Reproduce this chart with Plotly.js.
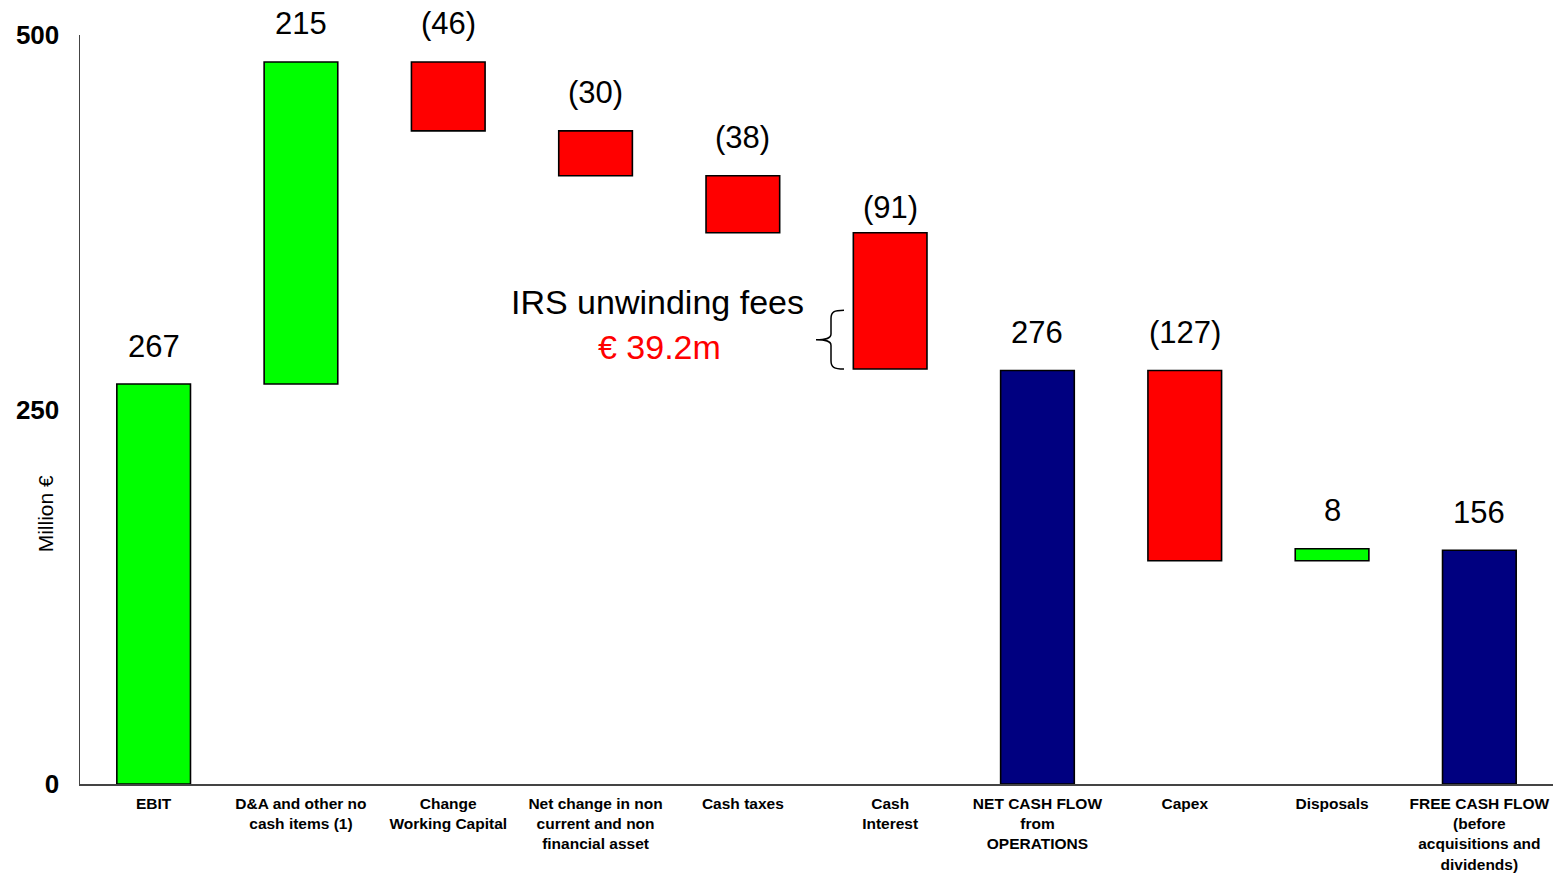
<!DOCTYPE html>
<html>
<head>
<meta charset="utf-8">
<script src="https://cdn.plot.ly/plotly-3.0.1.min.js"></script>
<style>
  html, body { margin: 0; padding: 0; background: #fff; }
  #chart { width: 1561px; height: 876px; }
</style>
</head>
<body>
<div id="chart"></div>
<script>
// ---- data ----
const categories = ['EBIT', 'DA', 'CWC', 'NCA', 'TAX', 'INT', 'NCF', 'CAPEX', 'DISP', 'FCF'];
const tickLabels = [
  'EBIT',
  'D&A and other no<br>cash items (1)',
  'Change<br>Working Capital',
  'Net change in non<br>current and non<br>financial asset',
  'Cash taxes',
  'Cash<br>Interest',
  'NET CASH FLOW<br>from<br>OPERATIONS',
  'Capex',
  'Disposals',
  'FREE CASH FLOW<br>(before<br>acquisitions and<br>dividends)'
];
const values = [267, 215, -46, -30, -38, -91, 276, -127, 8, 156];
const kinds = ['total', 'delta', 'delta', 'delta', 'delta', 'delta', 'total', 'delta', 'delta', 'total'];
const valueLabels = ['267', '215', '(46)', '(30)', '(38)', '(91)', '276', '(127)', '8', '156'];
const yTicks = [0, 250, 500];
const irsFee = 39.2;
const irsTitle = 'IRS unwinding fees';
const irsValue = '€ 39.2m';

// ---- waterfall geometry from data ----
const bases = [], heights = [], tops = [], colors = [];
let running = 0;
values.forEach((v, i) => {
  if (kinds[i] === 'total') {
    bases.push(0); heights.push(v); running = v;
    colors.push(i === 0 ? '#00FF00' : '#000080');
  } else {
    bases.push(running); heights.push(v);
    running += v;
    colors.push(v >= 0 ? '#00FF00' : '#FF0000');
  }
  tops.push(Math.max(bases[i], bases[i] + heights[i]));
});

const FONT = 'Liberation Sans, Arial, sans-serif';
const L = 80, R = 8, T = 35, B = 92, W = 1561;
const plotW = W - L - R;
const px2paper = p => (p - L) / plotW;

const annotations = valueLabels.map((t, i) => ({
  x: categories[i], y: tops[i], xref: 'x', yref: 'y',
  text: t, showarrow: false, yanchor: 'middle',
  yshift: i === 5 ? 25 : 38,
  font: { family: FONT, size: 31, color: '#000' }
}));

// IRS note
const interestIdx = 5;
const intBottom = bases[interestIdx] + heights[interestIdx];
annotations.push({
  x: px2paper(657), xref: 'paper', xanchor: 'center', y: intBottom + irsFee, yref: 'y',
  text: irsTitle, showarrow: false, yanchor: 'middle', yshift: 8,
  font: { family: FONT, size: 34, color: '#000' }
});
annotations.push({
  x: px2paper(659), xref: 'paper', xanchor: 'center', y: intBottom + irsFee, yref: 'y',
  text: irsValue, showarrow: false, yanchor: 'middle', yshift: -37,
  font: { family: FONT, size: 34, color: '#FF0000' }
});
// y-axis title
annotations.push({
  x: px2paper(45), xref: 'paper', xanchor: 'center', y: 180, yref: 'y', yanchor: 'middle',
  text: 'Million €', showarrow: false, textangle: -90,
  font: { family: FONT, size: 21, color: '#000' }
});

// curly brace spanning the IRS fee portion of the interest bar
const y0 = intBottom, y1 = intBottom + irsFee, ym = (y0 + y1) / 2;
const h = (y1 - y0);
const xr = px2paper(844), xm = px2paper(831), xp = px2paper(816), xc = px2paper(834);
const dy = h * 0.14;
const bracePath =
  `M ${xr},${y1} C ${xc},${y1} ${xm},${y1 - dy*0.2} ${xm},${y1 - dy}` +
  ` L ${xm},${ym + dy*0.7}` +
  ` C ${xm},${ym + dy*0.1} ${px2paper(825)},${ym} ${xp},${ym}` +
  ` C ${px2paper(825)},${ym} ${xm},${ym - dy*0.1} ${xm},${ym - dy*0.7}` +
  ` L ${xm},${y0 + dy}` +
  ` C ${xm},${y0 + dy*0.2} ${xc},${y0} ${xr},${y0}`;

const shapes = [{
  type: 'path', xref: 'paper', yref: 'y', path: bracePath,
  line: { color: '#000', width: 1.5 }
}];

const trace = {
  type: 'bar',
  x: categories,
  y: heights,
  base: bases,
  width: 0.5,
  marker: { color: colors, line: { color: '#000', width: 1.6 } },
  hoverinfo: 'skip'
};

const layout = {
  width: 1561, height: 876,
  margin: { l: L, r: R, t: T, b: B },
  paper_bgcolor: '#fff', plot_bgcolor: '#fff',
  showlegend: false,
  xaxis: {
    type: 'category',
    tickvals: categories, ticktext: tickLabels,
    tickangle: 0,
    showgrid: false, zeroline: false,
    showline: true, linecolor: '#444', linewidth: 1.5,
    ticks: '', ticklabelstandoff: 5,
    tickfont: { family: FONT, size: 15.5, color: '#000', weight: 'bold' },
    automargin: false
  },
  yaxis: {
    range: [0, 500],
    tickvals: yTicks, ticktext: yTicks.map(String),
    showgrid: false, zeroline: false,
    showline: true, linecolor: '#444', linewidth: 1.5,
    ticks: '', ticklabelstandoff: 14,
    tickfont: { family: FONT, size: 26, color: '#000', weight: 'bold' },
    automargin: false
  },
  annotations: annotations,
  shapes: shapes
};

Plotly.newPlot('chart', [trace], layout, { displayModeBar: false, staticPlot: true });
</script>
</body>
</html>
